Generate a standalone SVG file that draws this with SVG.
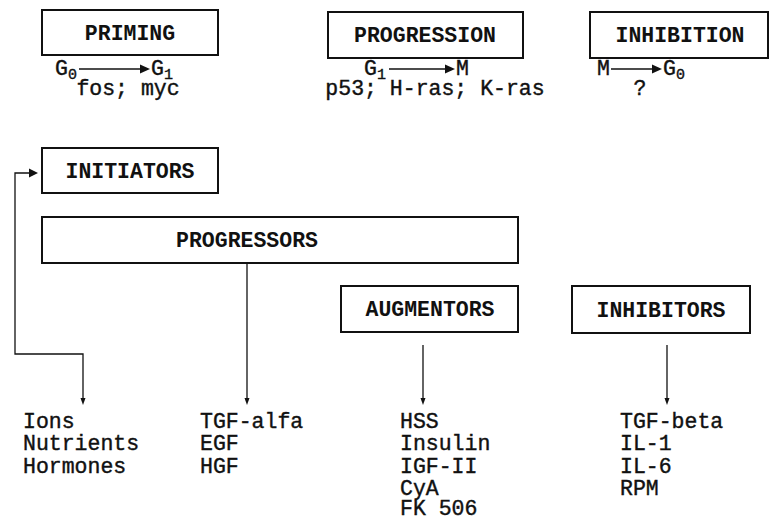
<svg xmlns="http://www.w3.org/2000/svg" width="770" height="521" viewBox="0 0 770 521">
<defs>
<style>
.box{fill:#fff;stroke:#111;stroke-width:2}
.lbl{font-family:"Liberation Mono","Courier New",monospace;font-weight:bold;font-size:21.5px;fill:#111;text-anchor:middle}
.t{font-family:"Liberation Mono","Courier New",monospace;font-size:21.5px;fill:#111;stroke:#111;stroke-width:0.4}
.sub{font-size:15px}
.ln{fill:none;stroke:#111;stroke-width:1.3}
.ah{fill:#111}
</style>
</defs>
<rect width="770" height="521" fill="#fff"/>
<g id="priming">
<rect class="box" x="42" y="10" width="176" height="45"/>
<text class="lbl" x="130" y="40">PRIMING</text>
<text class="t" x="55" y="75">G<tspan class="sub" x="68" y="79">0</tspan></text>
<line class="ln" x1="79" y1="69" x2="142" y2="69"/>
<polygon class="ah" points="140,64.5 150,69 140,73.5"/>
<text class="t" x="151" y="75">G<tspan class="sub" x="164" y="79">1</tspan></text>
<text class="t" x="128" y="95" text-anchor="middle">fos; myc</text>
</g>
<g id="progression">
<rect class="box" x="328" y="12" width="195" height="46"/>
<text class="lbl" x="425" y="42">PROGRESSION</text>
<text class="t" x="364" y="75">G<tspan class="sub" x="377" y="79">1</tspan></text>
<line class="ln" x1="389" y1="69" x2="447" y2="69"/>
<polygon class="ah" points="445,64.5 455,69 445,73.5"/>
<text class="t" x="456" y="75">M</text>
<text class="t" x="435" y="95" text-anchor="middle">p53; H-ras; K-ras</text>
</g>
<g id="inhibition">
<rect class="box" x="590" y="12" width="178" height="46"/>
<text class="lbl" x="680" y="42">INHIBITION</text>
<text class="t" x="597" y="75">M</text>
<line class="ln" x1="611" y1="69" x2="654" y2="69"/>
<polygon class="ah" points="652,64.5 662,69 652,73.5"/>
<text class="t" x="663" y="75">G<tspan class="sub" x="676" y="79">0</tspan></text>
<text class="t" x="640" y="95" text-anchor="middle">?</text>
</g>
<g id="initiators">
<rect class="box" x="42" y="148" width="176" height="45"/>
<text class="lbl" x="130" y="178">INITIATORS</text>
</g>
<g id="progressors">
<rect class="box" x="42" y="217" width="476" height="46"/>
<text class="lbl" x="247" y="247">PROGRESSORS</text>
</g>
<g id="augmentors">
<rect class="box" x="341" y="286" width="177" height="46"/>
<text class="lbl" x="430" y="316">AUGMENTORS</text>
</g>
<g id="inhibitors">
<rect class="box" x="572" y="286" width="178" height="47"/>
<text class="lbl" x="661" y="317">INHIBITORS</text>
</g>
<g id="connectors">
<polyline class="ln" points="83,399 83,354 15,354 15,173 30,173"/>
<polygon class="ah" points="29,168.5 38,173 29,177.5"/>
<polygon class="ah" points="80.5,398 85.5,398 83,405"/>
<line class="ln" x1="247" y1="263" x2="247" y2="399"/>
<polygon class="ah" points="244.5,398 249.5,398 247,405"/>
<line class="ln" x1="423" y1="345" x2="423" y2="399"/>
<polygon class="ah" points="420.5,398 425.5,398 423,405"/>
<line class="ln" x1="667" y1="345" x2="667" y2="399"/>
<polygon class="ah" points="664.5,398 669.5,398 667,405"/>
</g>
<g id="list-initiators">
<text class="t" x="23" y="428">Ions</text>
<text class="t" x="23" y="450">Nutrients</text>
<text class="t" x="23" y="473">Hormones</text>
</g>
<g id="list-progressors">
<text class="t" x="200" y="428">TGF-alfa</text>
<text class="t" x="200" y="450">EGF</text>
<text class="t" x="200" y="473">HGF</text>
</g>
<g id="list-augmentors">
<text class="t" x="400" y="428">HSS</text>
<text class="t" x="400" y="450">Insulin</text>
<text class="t" x="400" y="473">IGF-II</text>
<text class="t" x="400" y="495">CyA</text>
<text class="t" x="400" y="515">FK 506</text>
</g>
<g id="list-inhibitors">
<text class="t" x="620" y="428">TGF-beta</text>
<text class="t" x="620" y="450">IL-1</text>
<text class="t" x="620" y="473">IL-6</text>
<text class="t" x="620" y="495">RPM</text>
</g>
</svg>
